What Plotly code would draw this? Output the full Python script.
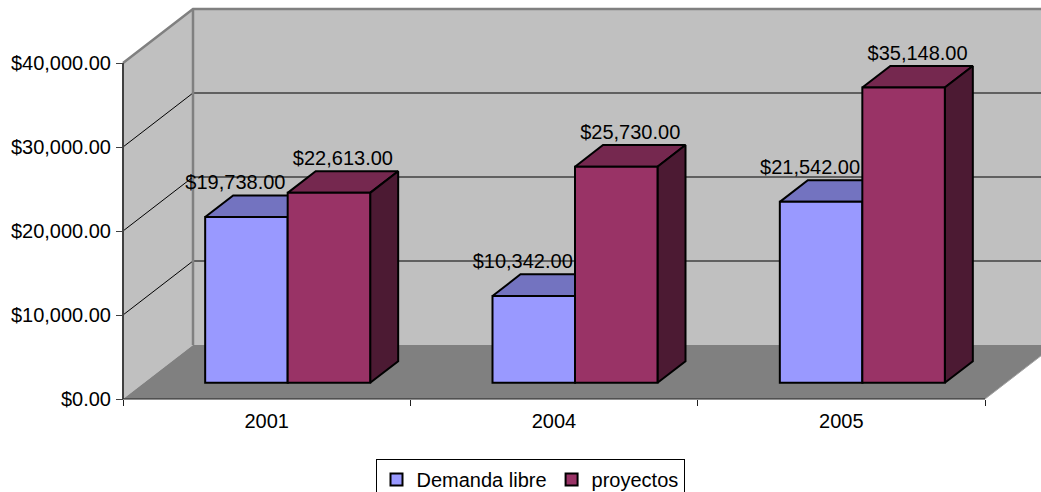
import plotly.graph_objects as go

# ---- data ----
categories = ["2001", "2004", "2005"]
demanda = [19738, 10342, 21542]
proyectos = [22613, 25730, 35148]
series_names = ["Demanda libre", "proyectos"]
y_ticks = [0, 10000, 20000, 30000, 40000]
y_tick_text = [f"${v:,.2f}" for v in y_ticks]

# ---- geometry (pixels -> axis units) ----
W, H = 1041, 500                 # page is cropped at 492 by the window; legend box runs past it
X0_PX, Y0_PX = 123, 399          # front plane origin
CAT_PX = 862 / 3                 # pixels per category
VAL_PX = 84 / 10000              # pixels per dollar


def ux(px):
    return px / CAT_PX


def uy(px):
    return px / VAL_PX


x_range = [-X0_PX / CAT_PX, (W - X0_PX) / CAT_PX]
y_range = [-(H - Y0_PX) / VAL_PX, Y0_PX / VAL_PX]

WALL_DX, WALL_DY = ux(70), uy(54)
BAR_F, BAR_D = 0.3, 0.4
shift_x, base_y = BAR_F * WALL_DX, BAR_F * WALL_DY
ddx, ddy = BAR_D * WALL_DX, BAR_D * WALL_DY
bar_w = ux(82.5)
top_val = max(y_ticks)
ncat = len(categories)

colors = {
    "Demanda libre": dict(front="#9999FF", top="#7373C0", side="#4D4D80"),
    "proyectos": dict(front="#993366", top="#75284F", side="#4C1A33"),
}
label_dx = {"Demanda libre": -ux(25), "proyectos": 0.0}
FONT = "Liberation Sans, Arial, sans-serif"

fig = go.Figure()

# ---- walls / floor as shapes ----
def P(pts):
    return "M " + " L ".join(f"{a},{b}" for a, b in pts) + " Z"


shapes = []
shapes.append(dict(type="path", path=P([(WALL_DX, WALL_DY), (WALL_DX, top_val + WALL_DY),
                                        (ncat + WALL_DX, top_val + WALL_DY), (ncat + WALL_DX, WALL_DY)]),
                   fillcolor="#C0C0C0", line=dict(width=0), layer="below"))
shapes.append(dict(type="path", path=P([(0, 0), (0, top_val), (WALL_DX, top_val + WALL_DY), (WALL_DX, WALL_DY)]),
                   fillcolor="#C0C0C0", line=dict(width=0), layer="below"))
shapes.append(dict(type="path", path=P([(0, 0), (WALL_DX, WALL_DY), (ncat + WALL_DX, WALL_DY), (ncat, 0)]),
                   fillcolor="#808080", line=dict(width=0), layer="below"))
for t in y_ticks[1:-1]:
    shapes.append(dict(type="line", x0=0, y0=t, x1=WALL_DX, y1=t + WALL_DY,
                       line=dict(color="black", width=1), layer="below"))
    shapes.append(dict(type="line", x0=WALL_DX, y0=t + WALL_DY, x1=ncat + WALL_DX, y1=t + WALL_DY,
                       line=dict(color="black", width=1), layer="below"))
# wall edges
shapes.append(dict(type="line", x0=WALL_DX, y0=WALL_DY, x1=WALL_DX, y1=top_val + WALL_DY,
                   line=dict(color="#808080", width=2.5), layer="below"))
shapes.append(dict(type="path", path=f"M 0,{top_val} L {WALL_DX},{top_val + WALL_DY} L {ncat + WALL_DX},{top_val + WALL_DY}",
                   line=dict(color="#808080", width=2.5), layer="below"))
shapes.append(dict(type="line", x0=0, y0=0, x1=0, y1=top_val,
                   line=dict(color="#404040", width=2), layer="below"))
shapes.append(dict(type="line", x0=0, y0=0, x1=ncat, y1=0,
                   line=dict(color="#202020", width=1), layer="below"))
shapes.append(dict(type="line", x0=ncat, y0=0, x1=ncat + WALL_DX, y1=WALL_DY,
                   line=dict(color="#A0A0A0", width=1), layer="below"))

# ---- bars ----
z = 1
for si, (name, vals) in enumerate(zip(series_names, [demanda, proyectos])):
    c = colors[name]
    xl_list = [i + 0.5 + shift_x - bar_w + si * bar_w for i in range(ncat)]
    tx, ty, sx, sy = [], [], [], []
    for xl, v in zip(xl_list, vals):
        xr = xl + bar_w
        top = base_y + v
        tx += [xl, xl + ddx, xr + ddx, xr, xl, None]
        ty += [top, top + ddy, top + ddy, top, top, None]
        sx += [xr, xr, xr + ddx, xr + ddx, xr, None]
        sy += [base_y, top, top + ddy, base_y + ddy, base_y, None]
    fig.add_trace(go.Scatter(x=tx, y=ty, mode="lines", fill="toself", fillcolor=c["top"],
                             line=dict(color="black", width=2), showlegend=False,
                             hoverinfo="skip", zorder=z))
    fig.add_trace(go.Scatter(x=sx, y=sy, mode="lines", fill="toself", fillcolor=c["side"],
                             line=dict(color="black", width=2), showlegend=False,
                             hoverinfo="skip", zorder=z))
    fig.add_trace(go.Bar(x=[xl + bar_w / 2 for xl in xl_list], y=vals, base=base_y, width=bar_w,
                         name=name, marker=dict(color=c["front"], line=dict(color="black", width=2)),
                         zorder=z + 1))
    fig.add_trace(go.Scatter(
        x=[xl + bar_w / 2 + ddx / 2 + label_dx[name] for xl in xl_list],
        y=[base_y + v + ddy + uy(1) for v in vals],
        mode="text", text=[f"${v:,.2f}" for v in vals], textposition="top center",
        textfont=dict(size=20, color="black", family=FONT), showlegend=False, hoverinfo="skip",
        cliponaxis=False, zorder=z + 1))
    z += 2

fig.update_layout(
    width=W, height=H, margin=dict(l=0, r=0, t=0, b=0),
    paper_bgcolor="white", plot_bgcolor="rgba(0,0,0,0)",
    font=dict(family=FONT, size=19, color="black"),
    shapes=shapes, barmode="overlay", showlegend=True,
    legend=dict(orientation="h", x=530 / W, xanchor="center", y=0, yanchor="bottom",
                bordercolor="black", borderwidth=1, font=dict(size=20), bgcolor="white",
                itemwidth=30, tracegroupgap=0),
    xaxis=dict(range=x_range, anchor="free", position=(H - Y0_PX) / H,
               tickmode="array", tickvals=[i + 0.5 for i in range(ncat)], ticktext=categories,
               ticks="", showgrid=False, zeroline=False, showline=False,
               tickfont=dict(size=20), ticklabelstandoff=8,
               minor=dict(tickmode="array", tickvals=list(range(ncat + 1)), ticks="outside",
                          ticklen=6, tickcolor="#202020", showgrid=False),
               fixedrange=True),
    yaxis=dict(range=y_range, anchor="free", position=X0_PX / W,
               tickmode="array", tickvals=y_ticks, ticktext=y_tick_text,
               ticks="outside", ticklen=7, tickcolor="#404040", tickfont=dict(size=20),
               ticklabelstandoff=1,
               showgrid=False, zeroline=False, showline=False, fixedrange=True),
)

fig.write_html("out.html",
               post_script="document.body.style.margin='0px';document.body.style.overflow='hidden';"
                           "document.documentElement.style.overflow='hidden';",
               config={"displayModeBar": False})
